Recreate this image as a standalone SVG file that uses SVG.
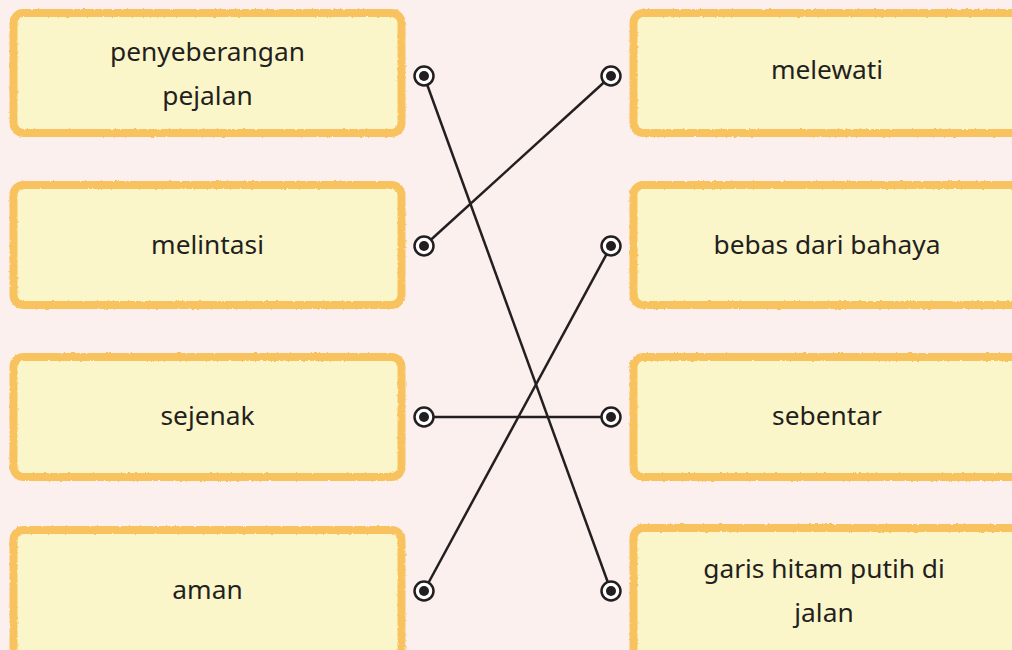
<svg xmlns="http://www.w3.org/2000/svg" width="1012" height="650" viewBox="0 0 1012 650">
<defs>
<filter id="rough" x="-5%" y="-5%" width="110%" height="110%">
<feTurbulence type="fractalNoise" baseFrequency="0.35" numOctaves="2" seed="3" result="n"/>
<feDisplacementMap in="SourceGraphic" in2="n" scale="2.5" xChannelSelector="R" yChannelSelector="G"/>
</filter>
<style>
.box{fill:#fbf6c9;stroke:#f8c35e;stroke-width:8;filter:url(#rough)}
.t{font-family:"Noto Sans","Open Sans",sans-serif;font-size:26.3px;fill:#231f20;text-anchor:middle}
.dot{fill:#ffffff;stroke:#231f20;stroke-width:2.5}
.in{fill:#231f20}
.ln{stroke:#231f20;stroke-width:2.5;fill:none}
</style>
</defs>
<rect width="1012" height="650" fill="#fcf0ef"/>
<g id="left1"><rect class="box" x="13.5" y="13" width="388" height="120" rx="10"/><text class="t" x="207.5" y="61">penyeberangan</text><text class="t" x="207.5" y="105">pejalan</text></g>
<g id="left2"><rect class="box" x="13.5" y="185" width="388" height="120" rx="10"/><text class="t" x="207.5" y="254">melintasi</text></g>
<g id="left3"><rect class="box" x="13.5" y="357" width="388" height="120" rx="10"/><text class="t" x="207.5" y="425">sejenak</text></g>
<g id="left4"><rect class="box" x="13.5" y="530" width="388" height="140" rx="10"/><text class="t" x="207.5" y="599">aman</text></g>
<g id="right1"><rect class="box" x="633.5" y="13" width="400" height="120" rx="10"/><text class="t" x="827" y="79">melewati</text></g>
<g id="right2"><rect class="box" x="633.5" y="185" width="400" height="120" rx="10"/><text class="t" x="827" y="254">bebas dari bahaya</text></g>
<g id="right3"><rect class="box" x="633.5" y="357" width="400" height="120" rx="10"/><text class="t" x="827" y="425">sebentar</text></g>
<g id="right4"><rect class="box" x="633.5" y="528" width="400" height="140" rx="10"/><text class="t" x="824" y="578">garis hitam putih di</text><text class="t" x="824" y="622">jalan</text></g>
<g id="connectors">
<line class="ln" x1="424" y1="76" x2="611" y2="591"/>
<line class="ln" x1="424" y1="246" x2="611" y2="76"/>
<line class="ln" x1="424" y1="417" x2="611" y2="417"/>
<line class="ln" x1="424" y1="591" x2="611" y2="246"/>
</g>
<g id="dots">
<circle class="dot" cx="424" cy="76" r="9.5"/><circle class="in" cx="424" cy="76" r="5"/>
<circle class="dot" cx="424" cy="246" r="9.5"/><circle class="in" cx="424" cy="246" r="5"/>
<circle class="dot" cx="424" cy="417" r="9.5"/><circle class="in" cx="424" cy="417" r="5"/>
<circle class="dot" cx="424" cy="591" r="9.5"/><circle class="in" cx="424" cy="591" r="5"/>
<circle class="dot" cx="611" cy="76" r="9.5"/><circle class="in" cx="611" cy="76" r="5"/>
<circle class="dot" cx="611" cy="246" r="9.5"/><circle class="in" cx="611" cy="246" r="5"/>
<circle class="dot" cx="611" cy="417" r="9.5"/><circle class="in" cx="611" cy="417" r="5"/>
<circle class="dot" cx="611" cy="591" r="9.5"/><circle class="in" cx="611" cy="591" r="5"/>
</g>
</svg>
